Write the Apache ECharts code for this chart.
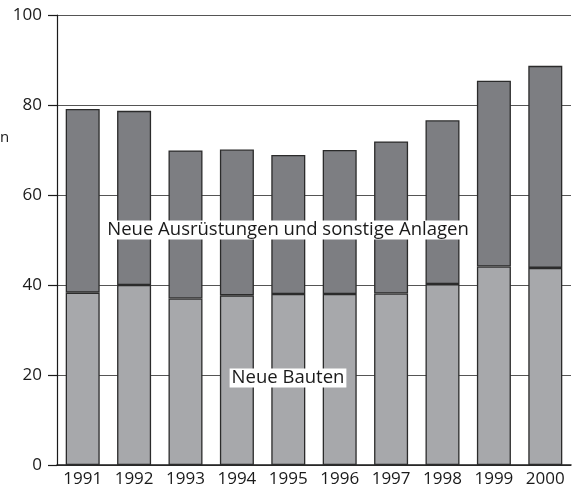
<!DOCTYPE html>
<html>
<head>
<meta charset="utf-8">
<script src="https://cdn.jsdelivr.net/npm/echarts@6/dist/echarts.min.js"></script>
<style>
  html, body { margin: 0; padding: 0; background: #fff; }
  #chart { width: 574px; height: 496px; }
</style>
</head>
<body>
<div id="chart"></div>
<script>
const years = ['1991', '1992', '1993', '1994', '1995', '1996', '1997', '1998', '1999', '2000'];
// Neue Bauten (unterer Teil)
const bauten = [38.3, 40.0, 37.0, 37.7, 38.0, 38.0, 38.1, 40.2, 44.1, 43.8];
// Neue Ausrüstungen und sonstige Anlagen (oberer Teil)
const ausruestungen = [40.8, 38.7, 32.9, 32.4, 30.9, 32.0, 33.8, 36.4, 41.3, 44.9];
const yTicks = [0, 20, 40, 60, 80, 100];

const font = '"Open Sans", "Noto Sans", sans-serif';
const chart = echarts.init(document.getElementById('chart'));

chart.setOption({
  animation: false,
  backgroundColor: '#fff',
  grid: { left: 57, right: 3, top: 15, bottom: 31 },
  xAxis: {
    type: 'category',
    data: years,
    axisLine: { lineStyle: { color: '#1a1a1a', width: 1.5 } },
    axisTick: { show: false },
    axisLabel: { color: '#1a1a1a', fontSize: 17, fontFamily: font, margin: 6 },
  },
  yAxis: {
    type: 'value',
    min: yTicks[0],
    max: yTicks[yTicks.length - 1],
    interval: 20,
    axisLine: { show: true, lineStyle: { color: '#1a1a1a', width: 1.2 } },
    axisTick: { show: true, length: 9, lineStyle: { color: '#1a1a1a', width: 1.2 } },
    axisLabel: { color: '#1a1a1a', fontSize: 17, fontFamily: font, margin: 15 },
    splitLine: { lineStyle: { color: '#555', width: 1.2 } },
  },
  series: [
    {
      name: 'Neue Bauten',
      type: 'bar',
      stack: 'total',
      data: bauten,
      barWidth: 34,
      itemStyle: { color: '#a7a8ab', borderColor: '#2b2b2b', borderWidth: 1.3 },
    },
    {
      name: 'Neue Ausrüstungen und sonstige Anlagen',
      type: 'bar',
      stack: 'total',
      data: ausruestungen,
      barWidth: 34,
      itemStyle: { color: '#7d7e82', borderColor: '#2b2b2b', borderWidth: 1.3 },
    },
  ],
  graphic: [
    {
      type: 'text', left: 0, top: 130,
      style: { text: 'n', fontSize: 15, fontFamily: font, fill: '#1a1a1a' },
    },
    {
      type: 'text', x: 288, y: 230, z: 100,
      style: {
        text: 'Neue Ausrüstungen und sonstige Anlagen',
        fontSize: 18.5, fontFamily: font, fill: '#1a1a1a',
        align: 'center', verticalAlign: 'middle',
        backgroundColor: '#fff', padding: [0, 2],
      },
    },
    {
      type: 'text', x: 288, y: 378, z: 100,
      style: {
        text: 'Neue Bauten',
        fontSize: 18.5, fontFamily: font, fill: '#1a1a1a',
        align: 'center', verticalAlign: 'middle',
        backgroundColor: '#fff', padding: [0, 2],
      },
    },
  ],
});
</script>
</body>
</html>
